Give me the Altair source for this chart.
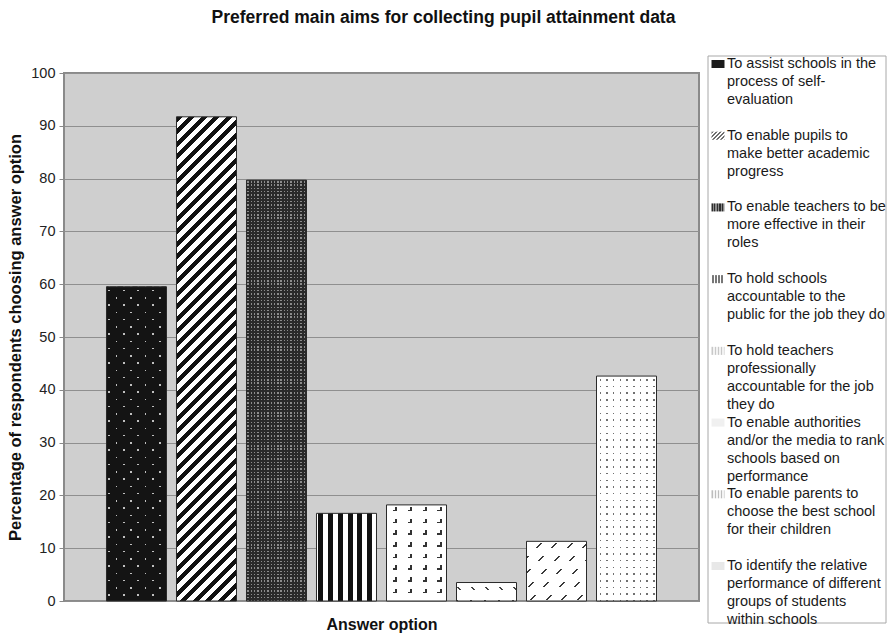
import altair as alt
import pandas as pd

# ---- data -------------------------------------------------------------
OPTIONS = [
    "To assist schools in the process of self-evaluation",
    "To enable pupils to make better academic progress",
    "To enable teachers to be more effective in their roles",
    "To hold schools accountable to the public for the job they do",
    "To hold teachers professionally accountable for the job they do",
    "To enable authorities and/or the media to rank schools based on performance",
    "To enable parents to choose the best school for their children",
    "To identify the relative performance of different groups of students within schools",
]
PERCENT = [59.5, 91.7, 79.7, 16.6, 18.2, 3.5, 11.3, 42.6]
LEGEND_LINES = [
    ["To assist schools in the", "process of self-", "evaluation"],
    ["To enable pupils to", "make better academic", "progress"],
    ["To enable teachers to be", "more effective in their", "roles"],
    ["To hold schools", "accountable to the", "public for the job they do"],
    ["To hold teachers", "professionally", "accountable for the job", "they do"],
    ["To enable authorities", "and/or the media to rank", "schools based on", "performance"],
    ["To enable parents to", "choose the best school", "for their children"],
    ["To identify the relative", "performance of different", "groups of students", "within schools"],
]
Y_TICKS = list(range(0, 101, 10))

TITLE = "Preferred main aims for collecting pupil attainment data"
Y_TITLE = "Percentage of respondents choosing answer option"
X_TITLE = "Answer option"

LEGEND_TEXT = ["\n".join(lines) for lines in LEGEND_LINES]
df = pd.DataFrame({"option": OPTIONS, "percent": PERCENT, "legend": LEGEND_TEXT})

# ---- layout -----------------------------------------------------------
PLOT_W, PLOT_H = 635, 528
PAD = {"left": 64, "top": 73, "right": 888 - 64 - PLOT_W, "bottom": 635 - 73 - PLOT_H}
P_IN, P_OUT = 10 / 70, 0.607
STEP = PLOT_W / (len(OPTIONS) - P_IN + 2 * P_OUT)
BAR_W = STEP * (1 - P_IN)
FONT = "Liberation Sans"
CLEAR = "rgba(255,255,255,0)"
WHITE = "#ffffff"


# ---- hatch fills built from hard-stop linear gradients ---------------
def band_stops(length, period, width, ink, paper, phase=0.0):
    stops = []

    def add(a, b, color):
        a, b = max(a, 0.0), min(b, length)
        if b > a:
            stops.append({"offset": round(a / length, 5), "color": color})
            stops.append({"offset": round(b / length, 5), "color": color})

    pos = (phase % period) - period
    while pos < length:
        add(pos, pos + width, ink)
        add(pos + width, pos + period, paper)
        pos += period
    return stops


def rows(h, period, width, ink, paper, phase=0.0):
    return {"gradient": "linear", "x1": 0, "y1": 0, "x2": 0, "y2": 1,
            "stops": band_stops(h, period, width, ink, paper, phase)}


def cols(w, period, width, ink, paper, phase=0.0):
    return {"gradient": "linear", "x1": 0, "y1": 0, "x2": 1, "y2": 0,
            "stops": band_stops(w, period, width, ink, paper, phase)}


def diag_up(w, h, period, width, ink, paper, phase=0.0):
    # "/" lines at 45 degrees; period measured horizontally
    s = w * (w + h) / (w * w + h * h)
    return {"gradient": "linear", "x1": 0, "y1": 0, "x2": s, "y2": s * h / w,
            "stops": band_stops(w + h, period, width, ink, paper, phase)}


def diag_down(w, h, period, width, ink, paper, phase=0.0):
    # "\" lines at 45 degrees; period measured horizontally
    s = w * (w + h) / (w * w + h * h)
    return {"gradient": "linear", "x1": 0, "y1": 1, "x2": s, "y2": 1 - s * h / w,
            "stops": band_stops(w + h, period, width, ink, paper, phase)}


def fills_for(i, w, h):
    if i == 0:   # black with staggered light dots
        p, d, r0, c0, ink = 7.25, 1.6, 3.0, 2.0, "#141414"
        return [rows(h, p, d, "#c0c0c0", ink, r0),
                cols(w, p, d, CLEAR, ink, c0),
                # cover every other dot along the diagonals -> staggered rows
                diag_up(w, h, 2 * p, 5.0, ink, CLEAR, r0 + c0 + d + p - 2.5)]
    if i == 1:   # wide upward diagonal
        return [diag_up(w, h, 12.5, 6.0, "#111111", WHITE, 0)]
    if i == 2:   # dense dark grid
        return [rows(h, 3.3, 1.4, "#8c8c8c", "#2a2a2a", 1),
                cols(w, 3.3, 1.4, CLEAR, "#2a2a2a", 1)]
    if i == 3:   # wide vertical
        return [cols(w, 9.7, 5.0, "#111111", WHITE, 2)]
    if i == 4:   # small corner marks
        gx, gy, g, t, ink = 15.0, 11.7, 4.5, 1.6, "#333333"
        return [rows(h, gy, t, ink, WHITE, 2 + g - t),
                cols(w, gx, g, CLEAR, WHITE, 6),
                cols(w, gx, t, ink, CLEAR, 6 + g - t),
                rows(h, gy, g, CLEAR, WHITE, 2)]
    if i == 5:   # sparse downward dashes
        return [diag_down(w, h, 14.0, 1.8, "#444444", WHITE, 0),
                rows(h, 13.0, 3.0, CLEAR, WHITE, 4)]
    if i == 6:   # upward dashes
        return [diag_up(w, h, 15.5, 1.9, "#3a3a3a", WHITE, 0),
                rows(h, 13.0, 4.5, CLEAR, WHITE, 2)]
    # light dotted
    return [rows(h, 6.7, 1.5, "#707070", WHITE, 3),
            cols(w, 6.7, 1.5, CLEAR, WHITE, 3)]


# small versions of the same fills for the legend keys (13 x 8 px)
SW_W, SW_H = 13, 8
SWATCH_FILLS = [
    "#1a1a1a",
    diag_up(SW_W, SW_H, 4.0, 2.0, "#6e6e6e", WHITE, 0),
    cols(SW_W, 2.6, 1.3, "#2e2e2e", "#8a8a8a", 0),
    cols(SW_W, 3.0, 1.4, "#777777", WHITE, 1),
    cols(SW_W, 3.0, 1.2, "#c8c8c8", "#f2f2f2", 0),
    "#f0f0f0",
    cols(SW_W, 3.0, 1.2, "#bdbdbd", "#f4f4f4", 0),
    "#e8e8e8",
]

# ---- bars -------------------------------------------------------------
x_enc = alt.X(
    "option:N", sort=OPTIONS,
    scale=alt.Scale(paddingInner=P_IN, paddingOuter=P_OUT),
    axis=alt.Axis(labels=False, ticks=False, domain=False, title=X_TITLE,
                  titleFontSize=16, titleFontWeight="bold", titleColor="#111111",
                  titlePadding=15),
)
y_enc = alt.Y(
    "percent:Q", scale=alt.Scale(domain=[0, 100]),
    axis=alt.Axis(values=Y_TICKS, title=Y_TITLE, grid=True, gridColor="#8f8f8f",
                  gridWidth=1, domain=False, tickColor="#888888", tickSize=5,
                  labelPadding=4, labelFontSize=14.5, labelColor="#222222",
                  titleFontSize=16.5, titleFontWeight="bold", titleColor="#111111",
                  titlePadding=7),
)
base = alt.Chart(df).encode(x=x_enc, y=y_enc)

bar_layers = []
for i, name in enumerate(OPTIONS):
    h = PERCENT[i] / 100 * PLOT_H
    for fill in fills_for(i, BAR_W, h):
        bar_layers.append(
            base.transform_filter(alt.datum.option == name)
            .mark_bar(fill=fill, strokeWidth=0)
        )
bar_layers.append(base.mark_bar(fillOpacity=0, stroke="#2a2a2a", strokeWidth=1))
bars = alt.layer(*bar_layers)

# ---- legend -----------------------------------------------------------
frame = alt.Chart(pd.DataFrame({"k": [0]})).mark_rect(
    fill="white", stroke="#a8a8a8", strokeWidth=1
).encode(x=alt.value(644), x2=alt.value(822), y=alt.value(-17), y2=alt.value(550))

leg_y = alt.Y("legend:N", sort=LEGEND_TEXT,
              scale=alt.Scale(type="point", domain=LEGEND_TEXT, range=[-16, 486], padding=0),
              axis=None)
swatch_layers = []
for key, fill in zip(LEGEND_TEXT, SWATCH_FILLS):
    swatch_layers.append(
        alt.Chart(df).transform_filter(alt.datum.legend == key).mark_point(
            shape="M-1,-0.62L1,-0.62L1,0.62L-1,0.62Z", size=SW_W * SW_W, filled=True,
            fill=fill, strokeWidth=0, opacity=1, yOffset=7,
        ).encode(x=alt.value(654), y=leg_y)
    )
labels = alt.Chart(df).mark_text(
    align="left", baseline="top", lineBreak="\n", lineHeight=18,
    fontSize=14.5, font=FONT, color="#1a1a1a",
).encode(x=alt.value(663), y=leg_y, text="legend:N")

legend = alt.layer(frame, *swatch_layers, labels)

chart = (
    alt.layer(bars, legend)
    .resolve_scale(y="independent")
    .properties(
        width=PLOT_W, height=PLOT_H, padding=PAD,
        autosize=alt.AutoSizeParams(type="none"),
        title=alt.TitleParams(TITLE, fontSize=17.5, fontWeight="bold", color="#111111",
                              font=FONT, anchor="middle", dx=62, offset=29),
    )
    .configure(font=FONT)
    .configure_view(fill="#cfcfcf", stroke="#8a8a8a", strokeWidth=2)
)

chart.save("out.html", embed_options={"renderer": "svg", "actions": False})
